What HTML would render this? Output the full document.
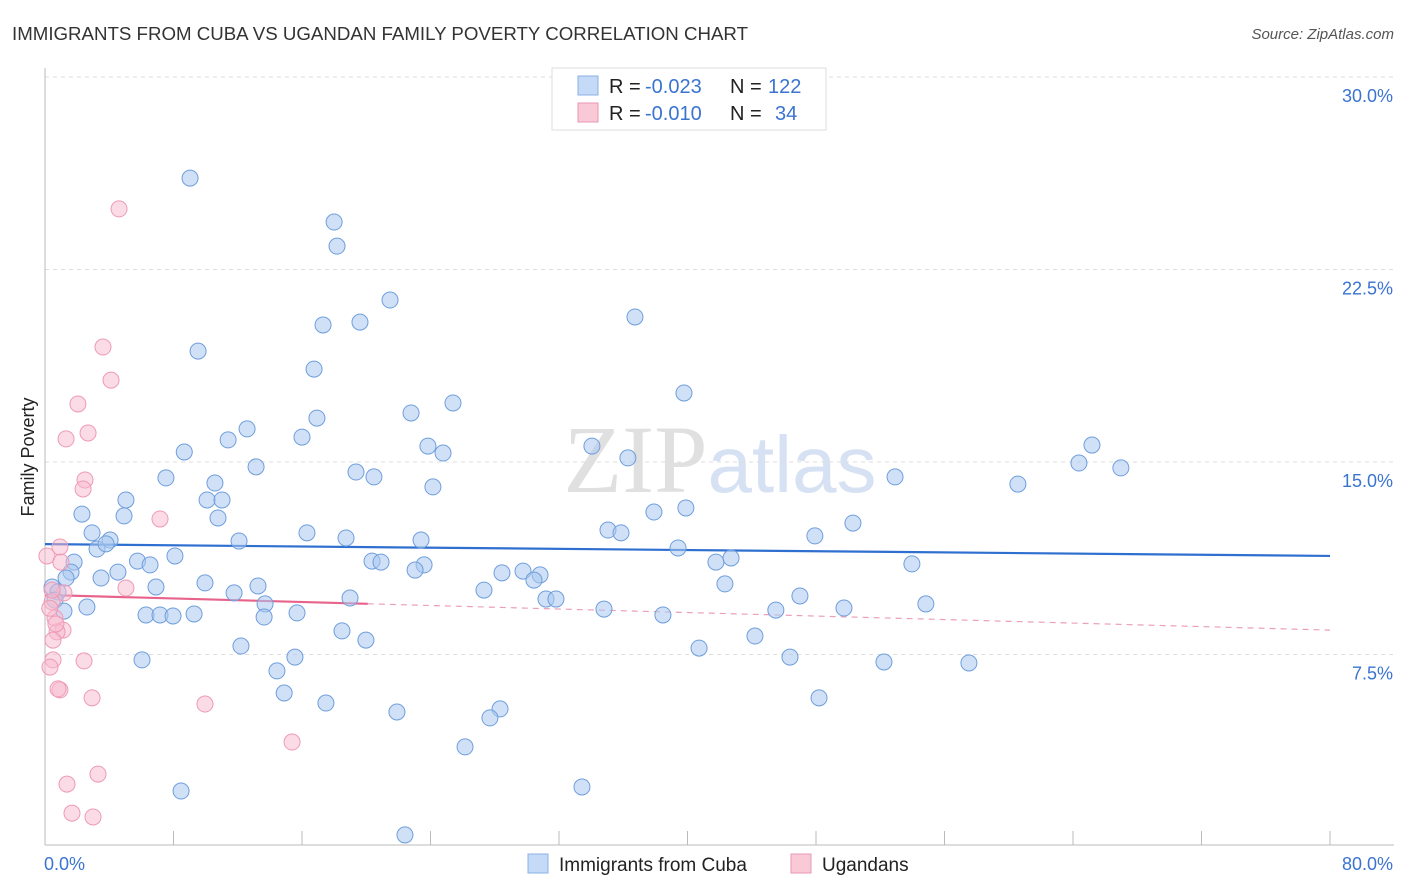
<!DOCTYPE html>
<html><head><meta charset="utf-8">
<style>
body{margin:0;background:#fff;font-family:"Liberation Sans",sans-serif;}
svg{display:block}
</style></head>
<body>
<svg id="chart" width="1406" height="892" viewBox="0 0 1406 892" xmlns="http://www.w3.org/2000/svg">
<text x="12" y="40" font-size="18" fill="#333" textLength="736" lengthAdjust="spacingAndGlyphs">IMMIGRANTS FROM CUBA VS UGANDAN FAMILY POVERTY CORRELATION CHART</text>
<text x="1394" y="39" font-size="15" fill="#555" text-anchor="end" font-style="italic">Source: ZipAtlas.com</text>
<text x="720" y="492" font-size="96" fill="#e4e4e4" text-anchor="middle" font-family="Liberation Serif,serif"><tspan fill="#e0e0e0">ZIP</tspan><tspan fill="#d6e2f3" font-family="Liberation Sans,sans-serif" font-size="80">atlas</tspan></text>
<g id="grid"></g>
<g id="axes"></g>
<g id="lines"></g>
<g id="pts"></g>
<text transform="translate(34,457) rotate(-90)" font-size="18" fill="#222" text-anchor="middle">Family Poverty</text>
<g>
<rect x="552" y="68" width="274" height="62" fill="#fff" stroke="#ddd"/>
<rect x="578" y="76" width="20" height="19" fill="#c5daf6" stroke="#8ab0e6"/>
<rect x="578" y="103" width="20" height="19" fill="#f9c9d8" stroke="#ea97b1"/>
<text y="93" font-size="20"><tspan x="609" fill="#222">R = </tspan><tspan x="645" fill="#3a74d0">-0.023</tspan><tspan x="730" fill="#222">N = </tspan><tspan x="768" fill="#3a74d0">122</tspan></text>
<text y="120" font-size="20"><tspan x="609" fill="#222">R = </tspan><tspan x="645" fill="#3a74d0">-0.010</tspan><tspan x="730" fill="#222">N = </tspan><tspan x="775" fill="#3a74d0">34</tspan></text>
</g>
<g>
<rect x="528" y="854" width="20" height="19" fill="#c5daf6" stroke="#8ab0e6"/>
<text x="559" y="871" font-size="19" fill="#222">Immigrants from Cuba</text>
<rect x="791" y="854" width="20" height="19" fill="#f9c9d8" stroke="#ea97b1"/>
<text x="822" y="871" font-size="19" fill="#222">Ugandans</text>
</g>
</svg>
<script>
const yTicks=[7.5,15,22.5,30];
const yTickLabels=["7.5%","15.0%","22.5%","30.0%"];
const xTickLabels=["0.0%","80.0%"];
const cubaX=[9.03,18.0,18.18,21.48,17.31,19.61,36.73,9.53,16.75,39.78,25.4,22.79,16.93,12.58,16.0,11.4,23.84,24.78,34.05,65.18,8.67,36.29,64.37,66.98,13.14,19.36,20.48,7.53,52.92,10.58,24.15,60.57,5.04,10.09,11.02,2.3,4.92,10.77,37.91,39.9,50.3,2.93,4.05,16.31,35.05,35.86,47.93,18.74,23.41,12.08,3.24,3.8,39.41,5.76,1.81,6.54,8.09,20.36,20.92,23.6,23.04,41.77,42.71,53.97,1.62,4.54,28.45,29.76,30.82,30.44,1.31,3.49,0.44,0.81,6.91,9.96,13.26,27.33,42.33,11.77,18.99,31.19,31.81,47.0,0.62,2.61,13.7,54.84,1.18,34.8,45.5,49.74,6.29,7.16,7.97,9.28,13.64,15.69,38.47,18.49,44.2,19.98,12.2,40.72,6.04,15.56,46.38,52.23,57.52,14.44,14.89,48.19,17.49,28.33,21.91,27.7,26.15,33.43,8.47,22.41];
const cubaY=[26.06,24.35,23.41,21.31,20.34,20.45,20.65,19.32,18.62,17.69,17.3,16.91,16.71,16.29,15.97,15.86,15.62,15.35,15.62,15.66,15.39,15.16,14.96,14.77,14.81,14.61,14.42,14.38,14.42,14.18,14.03,14.14,13.52,13.52,13.52,12.97,12.9,12.82,13.05,13.21,12.62,12.24,11.96,12.24,12.35,12.24,12.12,12.04,11.96,11.92,11.61,11.81,11.65,11.14,11.1,10.99,11.34,11.14,11.1,10.99,10.79,11.1,11.26,11.03,10.71,10.71,10.68,10.75,10.6,10.4,10.48,10.48,10.13,9.94,10.13,10.29,10.17,10.01,10.25,9.9,9.7,9.66,9.66,9.78,9.62,9.35,9.47,9.47,9.19,9.27,9.23,9.31,9.04,9.04,9.0,9.08,8.96,9.12,9.04,8.42,8.22,8.06,7.83,7.75,7.29,7.4,7.4,7.21,7.17,6.86,6.0,5.81,5.61,5.38,5.26,5.03,3.9,2.34,2.18,0.47];
const ugX=[4.61,3.61,4.11,2.05,2.68,1.31,2.49,2.37,7.16,0.93,0.12,0.99,5.04,1.18,0.44,0.62,1.12,0.75,0.5,0.5,2.43,0.31,0.93,0.81,2.93,9.96,15.38,3.3,1.37,1.68,2.99,0.44,0.68,0.3];
const ugY=[24.86,19.48,18.19,17.26,16.13,15.9,14.3,13.95,12.78,11.69,11.34,11.1,10.09,9.9,9.55,8.92,8.45,8.38,8.06,7.29,7.25,7.01,6.12,6.16,5.81,5.57,4.09,2.84,2.45,1.32,1.17,10.01,8.69,9.3];
const cubaTrend=[11.8,11.34];
const ugTrend=[9.82,8.45];
const ugSolidEnd=20.1;

const NS="http://www.w3.org/2000/svg";
const X0=45,X1=1330,Y0=847,PXPER=192.5/7.5;
function sx(v){return X0+(X1-X0)*v/80;}
function sy(v){return Y0-v*PXPER;}
function mk(tag,attrs,parent){const e=document.createElementNS(NS,tag);for(const k in attrs)e.setAttribute(k,attrs[k]);parent.appendChild(e);return e;}
const grid=document.getElementById('grid'),axes=document.getElementById('axes'),lines=document.getElementById('lines'),pts=document.getElementById('pts');
yTicks.forEach((t,i)=>{
  const l=mk('line',{x1:X0,x2:1394,y1:sy(t),y2:sy(t),stroke:'#ddd','stroke-dasharray':'4,4'},grid);
  
  
  const tx=mk('text',{x:1393,y:sy(t)+25,'font-size':18,fill:'#3a74d0','text-anchor':'end'},axes);
  tx.textContent=yTickLabels[i];
  
  
});
const ax=mk('line',{x1:X0,x2:X0,y1:68,y2:845,stroke:'#bbb'},axes);


const bx=mk('line',{x1:X0,x2:1394,y1:845,y2:845,stroke:'#bbb'},axes);


for(let i=1;i<=10;i++){
  const t=mk('line',{x1:sx(i*8),x2:sx(i*8),y1:831,y2:845,stroke:'#bbb'},axes);
  
  
}
const xl0=mk('text',{x:44,y:870,'font-size':18,fill:'#3a74d0'},axes);xl0.textContent=xTickLabels[0];


const xl1=mk('text',{x:1393,y:870,'font-size':18,fill:'#3a74d0','text-anchor':'end'},axes);xl1.textContent=xTickLabels[1];



function dot(x,y,fill,stroke,name){
  const c=mk('circle',{cx:sx(x),cy:sy(y),r:8,fill:fill,stroke:stroke,'stroke-width':1},pts);
  
  
}
cubaX.forEach((x,i)=>dot(x,cubaY[i],'rgba(170,200,240,0.55)','#6f9edc','point-cuba'));
ugX.forEach((x,i)=>dot(x,ugY[i],'rgba(248,185,205,0.5)','#ee9ab5','point-ugandans'));
function trendY(tr,x){return tr[0]+(tr[1]-tr[0])*x/80;}
const bl=mk('line',{x1:sx(0),y1:sy(trendY(cubaTrend,0)),x2:sx(80),y2:sy(trendY(cubaTrend,80)),stroke:'#2f6fd0','stroke-width':2.2},lines);


const pl=mk('line',{x1:sx(0),y1:sy(trendY(ugTrend,0)),x2:sx(ugSolidEnd),y2:sy(trendY(ugTrend,ugSolidEnd)),stroke:'#e8638c','stroke-width':2.2},lines);


const pd=mk('line',{x1:sx(ugSolidEnd),y1:sy(trendY(ugTrend,ugSolidEnd)),x2:sx(80),y2:sy(trendY(ugTrend,80)),stroke:'#eba0b8','stroke-width':1.2,'stroke-dasharray':'6,5'},lines);


</script>
</body></html>
